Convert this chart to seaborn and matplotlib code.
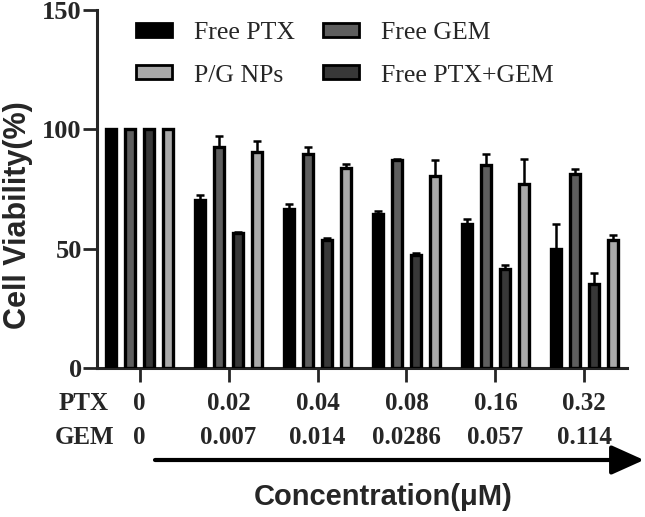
import numpy as np
import pandas as pd
import matplotlib
matplotlib.use("Agg")
import matplotlib.pyplot as plt
import matplotlib.patches as mpatches
import seaborn as sns

# ---- data ----
ptx_conc = ["0", "0.02", "0.04", "0.08", "0.16", "0.32"]
gem_conc = ["0", "0.007", "0.014", "0.0286", "0.057", "0.114"]
groups = ["Free PTX", "Free GEM", "Free PTX+GEM", "P/G NPs"]
free_ptx = [100, 70.5, 66.6, 64.5, 60.3, 50.0]
free_ptx_err = [0, 2.1, 2.2, 1.4, 2.1, 10.2]
free_gem = [100, 92.4, 89.6, 87.1, 85.0, 81.1]
free_gem_err = [0, 4.7, 3.2, 0.4, 4.6, 2.4]
free_combo = [100, 56.5, 53.6, 47.4, 41.4, 35.0]
free_combo_err = [0, 0.5, 0.9, 0.8, 1.7, 5.0]
pg_nps = [100, 90.3, 84.0, 80.3, 76.9, 53.5]
pg_nps_err = [0, 4.8, 1.5, 6.7, 10.6, 2.2]
colors = ["#000000", "#5e5e5e", "#383838", "#a9a9a9"]

values = [free_ptx, free_gem, free_combo, pg_nps]
errors = [free_ptx_err, free_gem_err, free_combo_err, pg_nps_err]

df = pd.DataFrame({
    "conc": ptx_conc * len(groups),
    "group": np.repeat(groups, len(ptx_conc)),
    "viability": np.concatenate(values),
})

sns.set_style("ticks")
serif = "Liberation Serif"
sans = "Liberation Sans"

fig = plt.figure(figsize=(6.45, 5.17), dpi=100)
top_px, bot_px = 10, 368
ax = fig.add_axes([97 / 645, 1 - bot_px / 517, 530 / 645, (bot_px - top_px) / 517])

sns.barplot(data=df, x="conc", y="viability", hue="group", order=ptx_conc,
            hue_order=groups, palette=colors, errorbar=None, width=0.854,
            gap=0.5, edgecolor="black", linewidth=2.4, saturation=1,
            legend=False, ax=ax, zorder=3)

# upward error bars
for cont, err in zip(ax.containers, errors):
    for bar, e in zip(cont.patches, err):
        if e <= 0:
            continue
        xc = bar.get_x() + bar.get_width() / 2
        ax.errorbar(xc, bar.get_height(), yerr=[[0], [e]], fmt="none",
                    ecolor="black", elinewidth=1.8, capsize=2.6,
                    capthick=1.8, zorder=2)

ax.set_ylim(0, 150)
ax.set_xlim(-0.48, 5.48)
ax.set_yticks([0, 50, 100, 150])
for sp in ["top", "right"]:
    ax.spines[sp].set_visible(False)
for sp in ["left", "bottom"]:
    ax.spines[sp].set_linewidth(2.2)
ax.tick_params(axis="both", direction="out", length=10, width=2.0)
ax.set_xticks(range(len(ptx_conc)))
ax.set_xticklabels([])
for lab in ax.get_yticklabels():
    lab.set_fontfamily(serif)
    lab.set_fontweight("bold")
    lab.set_fontsize(19)
ax.tick_params(axis="y", pad=1)
ax.set_xlabel("")
ax.set_ylabel("Cell Viability(%)", fontfamily=sans, fontweight="bold",
              fontsize=22, va="center")
ax.yaxis.set_label_coords(-79 / 530, (bot_px - 215) / (bot_px - top_px))

# two-row tick labels
trans = matplotlib.transforms.blended_transform_factory(ax.transData, fig.transFigure)
for i, (p, g) in enumerate(zip(ptx_conc, gem_conc)):
    ax.text(i, 1 - 403 / 517, p, transform=trans, ha="center", va="center",
            fontfamily=serif, fontweight="bold", fontsize=18)
    ax.text(i, 1 - 437 / 517, g, transform=trans, ha="center", va="center",
            fontfamily=serif, fontweight="bold", fontsize=18)
fig.text(84 / 645, 1 - 403 / 517, "PTX", ha="center", va="center",
         fontfamily=serif, fontweight="bold", fontsize=18)
fig.text(85 / 645, 1 - 437 / 517, "GEM", ha="center", va="center",
         fontfamily=serif, fontweight="bold", fontsize=18)

# arrow
fig.add_artist(matplotlib.patches.FancyArrowPatch(
    (155 / 645, 1 - 460 / 517), (644 / 645, 1 - 460 / 517),
    transform=fig.transFigure, arrowstyle="-|>,head_length=1.0,head_width=0.45",
    mutation_scale=20, lw=3, color="black", shrinkA=0, shrinkB=0))
fig.text(383 / 645, 1 - 497 / 517, "Concentration(μM)", ha="center", va="center",
         fontfamily=sans, fontweight="bold", fontsize=21)

# legend
handles = [mpatches.Patch(facecolor=c, edgecolor="black", linewidth=2.0)
           for c in colors]
order = [0, 3, 1, 2]
ax.legend([handles[i] for i in order], [groups[i] for i in order], ncol=2,
          loc="upper left", bbox_to_anchor=(136 / 645, 1 - 22 / 517),
          bbox_transform=fig.transFigure, frameon=False, borderpad=0,
          borderaxespad=0, handlelength=1.4, handleheight=0.45,
          handletextpad=0.85, labelspacing=0.8, columnspacing=1.1,
          prop={"family": serif, "size": 18.5})

fig.savefig("out.png", dpi=100)
